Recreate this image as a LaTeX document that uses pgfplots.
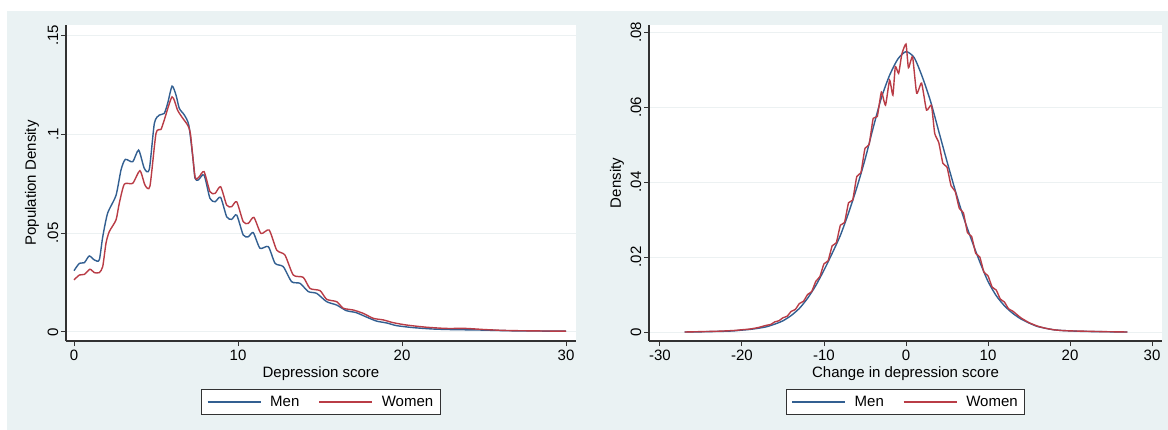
\documentclass[border=0pt]{standalone}
\usepackage{pgfplots}
\pgfplotsset{compat=1.18}
\usepackage{fontspec}
\setmainfont{Liberation Sans}
\definecolor{stbg}{RGB}{234,242,243}
\definecolor{stgrid}{RGB}{236,241,242}
\definecolor{menblue}{RGB}{50,95,145}
\definecolor{womred}{RGB}{185,60,70}
\definecolor{axcol}{RGB}{50,50,50}
\begin{document}
\begin{tikzpicture}
\useasboundingbox (0bp,0bp) rectangle (1168bp,430bp);
\fill[white] (0bp,0bp) rectangle (1168bp,430bp);
\fill[stbg] (7bp,0bp) rectangle (1168bp,419bp);
\pgfplotsset{
  stataax/.style={
    scale only axis,
    axis background/.style={fill=white},
    axis lines*=left,
    axis line style={axcol, line width=1.2bp, -},
    tick style={axcol, line width=1bp},
    tick align=outside,
    major tick length=5bp,
    ymajorgrids,
    grid style={stgrid, line width=1bp},
    scaled ticks=false,
    font=\fontsize{15bp}{17bp}\selectfont,
    /pgf/number format/assume math mode=true,
    yticklabel style={rotate=90, anchor=south, inner sep=2.5bp},
    xticklabel style={anchor=north, inner sep=3.5bp},
    legend columns=2,
    legend cell align=left,
    legend style={draw=axcol, line width=1bp, fill=white, inner xsep=5bp, inner ysep=4.5bp,
      font=\fontsize{15bp}{17bp}\selectfont,
      /tikz/every even column/.append style={column sep=17bp}},
    legend image code/.code={\draw[##1] (0bp,0bp) -- (53bp,0bp); \path (60bp,0bp);},
  }
}
% Left panel
\begin{axis}[stataax,
  at={(66bp,89bp)}, anchor=south west,
  width=510bp, height=316bp,
  xmin=-0.488, xmax=30.61, ymin=-0.00455, ymax=0.1551,
  xtick={0,10,20,30}, xticklabels={0,10,20,30},
  ytick={0,0.05,0.1,0.15}, yticklabels={0,.05,.1,.15},
  xlabel={Depression score},
  xlabel style={at={(axis description cs:0.5,-0.082)}, anchor=north, inner sep=0pt},
  ylabel={Population Density},
  ylabel style={at={(axis description cs:-0.0667,0.5)}, anchor=center, inner sep=0pt},
  legend style={at={(0.5,-0.152)}, anchor=north},
]
\addplot[menblue, line width=1.4bp, smooth, tension=0.4] coordinates {
(0,0.0310) (0.33,0.0347) (0.63,0.0350) (0.93,0.0384) (1.24,0.0364) (1.54,0.0364)
(1.75,0.0480) (2.05,0.0600) (2.56,0.0690) (2.87,0.0820) (3.13,0.0872) (3.58,0.0860)
(3.94,0.0919) (4.29,0.0826) (4.59,0.0821) (4.90,0.1054) (5.20,0.1096) (5.50,0.1104)
(5.71,0.1155) (5.98,0.1242) (6.22,0.1197) (6.42,0.1130) (6.73,0.1096) (7.00,0.1045)
(7.25,0.0880) (7.38,0.0776) (7.58,0.0768) (7.93,0.0793) (8.29,0.0675) (8.60,0.0658)
(8.94,0.0680) (9.31,0.0582) (9.61,0.0569) (9.92,0.0591) (10.32,0.0490) (10.63,0.0481)
(10.93,0.0502) (11.34,0.0423) (11.85,0.0431) (12.26,0.0347) (12.76,0.0330) (13.27,0.0254)
(13.78,0.0246) (14.29,0.0204) (14.80,0.0195) (15.41,0.0153) (16.02,0.0136) (16.6,0.0108)
(17.2,0.0098) (17.85,0.0075) (18.45,0.0055) (19.1,0.0045) (19.67,0.0032) (20.7,0.0022)
(21.9,0.0015) (23.1,0.0012) (24.7,0.0010) (26.7,0.0006) (30,0.0004)
};
\addlegendentry{Men}
\addplot[womred, line width=1.4bp, smooth, tension=0.4] coordinates {
(0,0.0263) (0.33,0.0288) (0.63,0.0291) (0.97,0.0317) (1.24,0.0300) (1.54,0.0300)
(1.75,0.0330) (1.95,0.0448) (2.15,0.0507) (2.56,0.0566) (2.76,0.0650) (3.07,0.0747)
(3.58,0.0751) (4.02,0.0815) (4.33,0.0742) (4.63,0.0737) (5.00,0.1003) (5.30,0.1023)
(5.50,0.1070) (5.98,0.1188) (6.32,0.1120) (6.63,0.1080) (6.93,0.1045) (7.1,0.1000)
(7.38,0.0785) (7.60,0.0781) (7.93,0.0810) (8.29,0.0709) (8.60,0.0700) (8.94,0.0734)
(9.31,0.0641) (9.61,0.0633) (9.92,0.0658) (10.32,0.0557) (10.63,0.0549) (10.97,0.0579)
(11.40,0.0498) (11.90,0.0515) (12.36,0.0414) (12.86,0.0389) (13.37,0.0288) (13.98,0.0276)
(14.39,0.0220) (15.00,0.0209) (15.41,0.0165) (16.02,0.0153) (16.42,0.0120) (17.03,0.0111)
(17.64,0.0094) (18.25,0.0069) (18.86,0.0061) (19.47,0.0047) (20.29,0.0035) (21.5,0.0024)
(22.7,0.0018) (23.9,0.0018) (25.1,0.0012) (26.7,0.0007) (30,0.0004)
};
\addlegendentry{Women}
\end{axis}
% Right panel
\begin{axis}[stataax,
  at={(649bp,89bp)}, anchor=south west,
  width=513bp, height=316bp,
  xmin=-31.34, xmax=31.22, ymin=-0.0024, ymax=0.0819,
  xtick={-30,-20,-10,0,10,20,30}, xticklabels={-30,-20,-10,0,10,20,30},
  ytick={0,0.02,0.04,0.06,0.08}, yticklabels={0,.02,.04,.06,.08},
  xlabel={Change in depression score},
  xlabel style={at={(axis description cs:0.5,-0.082)}, anchor=north, inner sep=0pt},
  ylabel={Density},
  ylabel style={at={(axis description cs:-0.0624,0.5)}, anchor=center, inner sep=0pt},
  legend style={at={(0.5,-0.152)}, anchor=north},
]
\addplot[menblue, line width=1.4bp, smooth, tension=0.4] coordinates {
(-27,0) (-26,0.00003) (-25,0.00005) (-24,0.0001) (-23,0.00015) (-22,0.0002) (-21,0.0003)
(-20,0.0005) (-19,0.0007) (-18,0.0010) (-17,0.0014) (-16,0.0021) (-15,0.0030) (-14,0.0044)
(-13,0.0063) (-12,0.0090) (-11,0.0124) (-10,0.0165) (-9,0.0210) (-8,0.0258) (-7,0.0318)
(-6,0.0385) (-5,0.0460) (-4,0.0545) (-3,0.0625) (-2,0.0685) (-1,0.0728) (0,0.0748)
(1,0.0732) (2,0.0680) (3,0.0615) (4,0.0535) (5,0.0455) (6,0.0378) (7,0.0307) (8,0.0245)
(9,0.0187) (10,0.0135) (11,0.0097) (12,0.0070) (13,0.0050) (14,0.0035) (15,0.0024)
(16,0.0015) (17,0.0010) (18,0.0006) (19,0.0004) (20,0.0003) (21,0.0002) (22,0.00015)
(23,0.0001) (24,0.00008) (25,0.00005) (26,0.00003) (27,0)
};
\addlegendentry{Men}
\addplot[womred, line width=1.4bp, smooth, tension=0.3] coordinates {
(-27,0) (-25,0.0001) (-23,0.0002) (-21,0.0004) (-20,0.0006) (-19,0.0008) (-18,0.0012)
(-17,0.0018) (-16.5,0.0020) (-16,0.0027) (-15.5,0.0030) (-15,0.0038) (-14.5,0.0042)
(-14,0.0055) (-13.5,0.0060) (-13,0.0076) (-12.5,0.0082) (-12,0.0100) (-11.5,0.0108)
(-11,0.0135) (-10.5,0.0148) (-10,0.0182) (-9.5,0.0190) (-9,0.0230) (-8.5,0.0238)
(-8,0.0285) (-7.5,0.0292) (-7,0.0345) (-6.5,0.0352) (-6,0.0415) (-5.5,0.0425)
(-5,0.0490) (-4.5,0.0500) (-4,0.0570) (-3.5,0.0575) (-3,0.0640) (-2.5,0.0605)
(-2,0.0672) (-1.6,0.0632) (-1.3,0.0708) (-0.9,0.0690) (-0.5,0.0742) (0,0.0768)
(0.3,0.0705) (0.8,0.0734) (1.3,0.0637) (1.9,0.0664) (2.5,0.0592) (3.1,0.0605)
(3.5,0.0530) (4.0,0.0505) (4.5,0.0450) (5,0.0440) (5.5,0.0390) (6,0.0375) (6.5,0.0330)
(7,0.0318) (7.5,0.0265) (8,0.0255) (8.5,0.0210) (9,0.0200) (9.5,0.0160) (10,0.0150)
(10.5,0.0120) (11,0.0112) (11.5,0.0088) (12,0.0080) (12.5,0.0062) (13,0.0056)
(14,0.0038) (15,0.0025) (16,0.0016) (17,0.0010) (18,0.0006) (19,0.0004) (20,0.0003)
(22,0.0002) (24,0.0001) (27,0)
};
\addlegendentry{Women}
\end{axis}
\end{tikzpicture}
\end{document}
